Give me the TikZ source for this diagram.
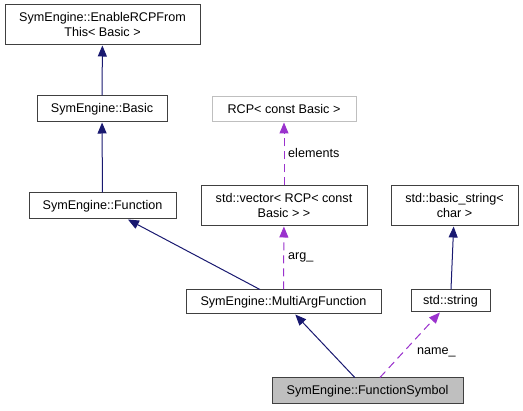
\documentclass[tikz,border=0pt]{standalone}
\usepackage{fontspec}
\setmainfont{Liberation Sans}
\usetikzlibrary{arrows.meta}
\definecolor{inh}{HTML}{191970}
\definecolor{usec}{HTML}{9A32CD}
\definecolor{bord}{HTML}{404040}
\definecolor{grayfill}{HTML}{BFBFBF}
\begin{document}
\begin{tikzpicture}[x=1pt,y=-1pt,
  box/.style={draw=bord, line width=1pt, fill=white, inner sep=0pt, align=center,
    font=\fontsize{12.6}{15}\selectfont},
  lbl/.style={inner sep=0pt, font=\fontsize{12.6}{15}\selectfont},
  inhedge/.style={draw=inh, line width=1pt, -{Triangle[length=11pt,width=9pt]}},
  useedge/.style={draw=usec, line width=1pt, dash pattern=on 8pt off 5pt, -{Triangle[length=11pt,width=9pt]}}]
\useasboundingbox (0,0) rectangle (523,411);
\node[box, minimum width=195pt, minimum height=40pt] (top) at (102.5,25) {SymEngine::EnableRCPFrom\\This< Basic >};
\node[box, minimum width=130pt, minimum height=26pt] (basic) at (102,109) {SymEngine::Basic};
\node[box, minimum width=147pt, minimum height=26pt] (func) at (102.5,206) {SymEngine::Function};
\node[box, draw=grayfill, minimum width=144pt, minimum height=25pt] (rcp) at (284,109.5) {RCP< const Basic >};
\node[box, minimum width=166pt, minimum height=40pt] (vec) at (284,206) {std::vector< RCP< const\\Basic > >};
\node[box, minimum width=127pt, minimum height=40pt] (bstr) at (454.5,206) {std::basic\_string<\\char >};
\node[box, minimum width=195pt, minimum height=24pt] (multi) at (283.5,302) {SymEngine::MultiArgFunction};
\node[box, minimum width=79pt, minimum height=22pt] (str) at (450.5,301) {std::string};
\node[box, fill=grayfill, minimum width=191pt, minimum height=26pt] (fsym) at (367.5,391) {SymEngine::FunctionSymbol};
\draw[inhedge] (basic) -- (top);
\draw[inhedge] (func) -- (basic);
\draw[inhedge] (multi) -- (func);
\draw[inhedge] (fsym) -- (multi);
\draw[inhedge] (str) -- (bstr);
\draw[useedge] (vec) -- (rcp);
\draw[useedge] (multi) -- (vec);
\draw[useedge] (fsym) -- (str);
\node[lbl, anchor=west] (lelem) at (288,153) {elements};
\node[lbl, anchor=west] (larg) at (288,257) {arg\_};
\node[lbl, anchor=west] (lname) at (417,352) {name\_};
\end{tikzpicture}
\end{document}
